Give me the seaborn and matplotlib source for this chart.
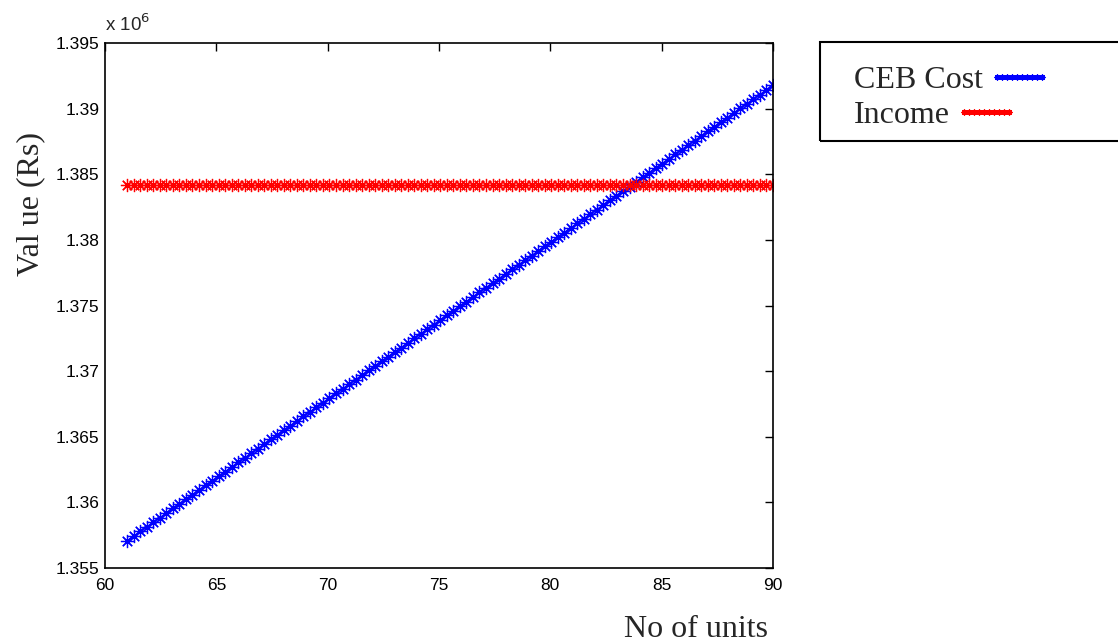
import numpy as np
import pandas as pd
import matplotlib
matplotlib.use("Agg")
import matplotlib.pyplot as plt
from matplotlib.ticker import FuncFormatter
from matplotlib.patches import Rectangle
import seaborn as sns

# ---------------- data ----------------
units_start, units_end, n_points = 61, 90, 100
units = np.linspace(units_start, units_end, n_points)

ceb_cost = [
    1357083, 1357433, 1357784, 1358134, 1358485, 1358835, 1359186, 1359536, 1359886, 1360237,
    1360587, 1360938, 1361288, 1361638, 1361989, 1362339, 1362690, 1363040, 1363390, 1363741,
    1364091, 1364442, 1364792, 1365142, 1365493, 1365843, 1366194, 1366544, 1366894, 1367245,
    1367595, 1367946, 1368296, 1368647, 1368997, 1369347, 1369698, 1370048, 1370399, 1370749,
    1371099, 1371450, 1371800, 1372151, 1372501, 1372851, 1373202, 1373552, 1373903, 1374253,
    1374603, 1374954, 1375304, 1375655, 1376005, 1376356, 1376706, 1377056, 1377407, 1377757,
    1378108, 1378458, 1378808, 1379159, 1379509, 1379860, 1380210, 1380560, 1380911, 1381261,
    1381612, 1381962, 1382312, 1382663, 1383013, 1383364, 1383714, 1384065, 1384415, 1384765,
    1385116, 1385466, 1385817, 1386167, 1386517, 1386868, 1387218, 1387569, 1387919, 1388270,
    1388620, 1388970, 1389321, 1389671, 1390022, 1390372, 1390722, 1391073, 1391423, 1391774,
]
income_value = 1384216
income = [income_value] * n_points

series_names = ["CEB Cost", "Income"]
series_colors = ["#0000FF", "#FF0000"]

x_ticks = [60, 65, 70, 75, 80, 85, 90]
y_ticks = [1.355e6, 1.36e6, 1.365e6, 1.37e6, 1.375e6, 1.38e6, 1.385e6, 1.39e6, 1.395e6]

df = pd.DataFrame({
    "units": np.concatenate([units, units]),
    "value": np.concatenate([ceb_cost, income]),
    "series": [series_names[0]] * n_points + [series_names[1]] * n_points,
})

# ---------------- style ----------------
sns.set_theme(style="white")
plt.rcParams["font.family"] = ["Liberation Sans", "DejaVu Sans"]
SERIF = ["Liberation Serif", "DejaVu Serif"]
ASTERISK = (8, 2, 0)

W, H = 1118, 643
fig = plt.figure(figsize=(W / 100, H / 100), dpi=100)
ax = fig.add_axes([105 / W, 1 - 568 / H, (773 - 105) / W, (568 - 43) / H])

for name, col in zip(series_names, series_colors):
    sub = df[df["series"] == name]
    sns.lineplot(data=sub, x="units", y="value", ax=ax, color=col,
                 marker=ASTERISK, markersize=9.5, markeredgecolor=col,
                 markerfacecolor=col, markeredgewidth=0.9,
                 linewidth=1.0, label=name, legend=False)

ax.set_xlim(60, 90)
ax.set_ylim(1.355e6, 1.395e6)
ax.set_xticks(x_ticks)
ax.set_yticks(y_ticks)
ax.yaxis.set_major_formatter(FuncFormatter(lambda v, p: "%g" % (v / 1e6)))
ax.tick_params(direction="in", top=True, right=True, length=6, width=1,
               labelsize=12.5, colors="black")
ax.tick_params(axis="y", pad=4)
ax.tick_params(axis="x", pad=7)
for s in ax.spines.values():
    s.set_color("black")
    s.set_linewidth(1.2)
ax.grid(False)

ax.text(0.0, 1.015, "x 10$^{6}$", transform=ax.transAxes, fontsize=13.5,
        ha="left", va="bottom")

ax.set_xlabel("No of units", fontsize=23, family=SERIF)
ax.set_ylabel("Val ue (Rs)", fontsize=23, family=SERIF)
ax.xaxis.set_label_coords(0.885, -0.09)
ax.yaxis.set_label_coords(-0.09, 0.693)

# legend: one entry per row, text left-aligned, sample after the text
handles, labels = ax.get_legend_handles_labels()
row_tops = [50, 85]
for h, l, top in zip(handles, labels, row_tops):
    lg = fig.legend([h], [l], loc="upper left",
                    bbox_to_anchor=(838 / W, 1 - top / H),
                    frameon=False, markerfirst=False, numpoints=10,
                    handlelength=2.0, handletextpad=0.15,
                    borderpad=0, markerscale=0.45,
                    prop={"family": SERIF, "size": 23})
fig.patches.append(Rectangle((820 / W, 1 - 141 / H), (W + 20 - 820) / W, (141 - 42) / H,
                             transform=fig.transFigure, fill=False,
                             edgecolor="black", linewidth=1.5))

fig.savefig("out.png", dpi=100)
